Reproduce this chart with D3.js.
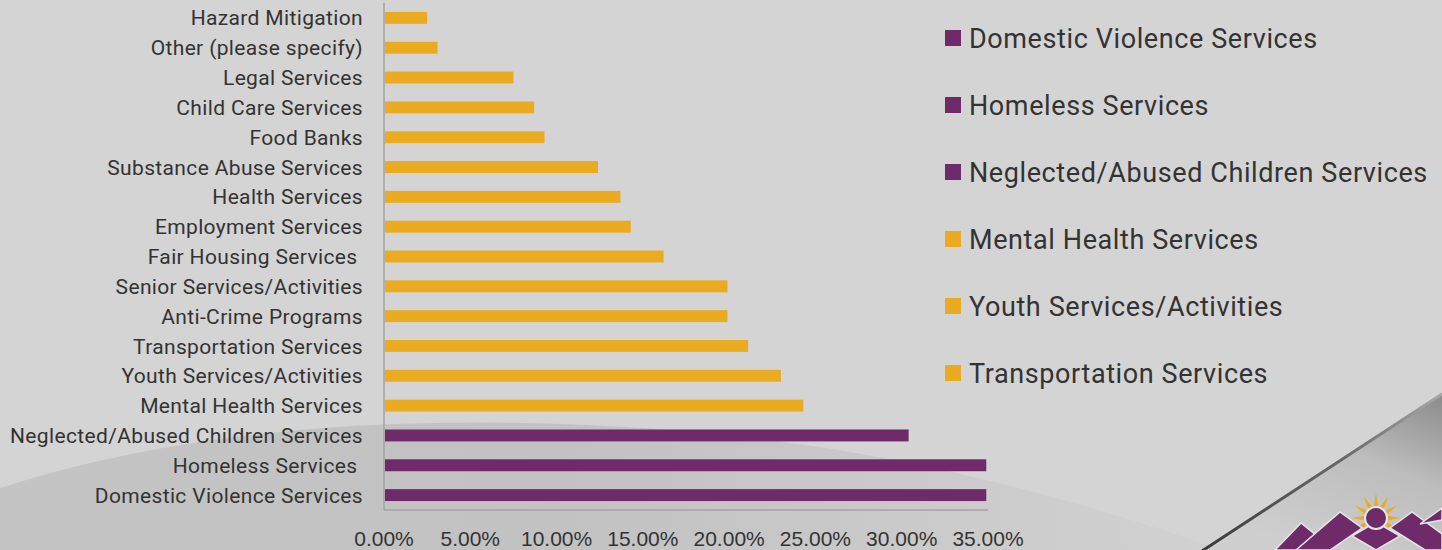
<!DOCTYPE html>
<html lang="en">
<head>
    <meta charset="utf-8">
    <title>Community Services Needs</title>
    <style>
        html, body {
            margin: 0;
            padding: 0;
            background: #d4d4d4;
        }
        svg {
            display: block;
        }
        .cat-label {
            font: 21px Roboto, sans-serif;
            letter-spacing: 0.35px;
            fill: #333;
            white-space: pre;
        }
        .tick-label {
            font: 21px "Liberation Sans", Arial, sans-serif;
            fill: #333;
        }
        .legend-label {
            font: 27px Roboto, sans-serif;
            letter-spacing: 0.6px;
            fill: #333;
        }
    </style>
</head>
<body>
<svg width="1442" height="550"></svg>

<script src="https://cdn.jsdelivr.net/npm/d3@7"></script>
<script>
  // categories, top to bottom as shown
  const categories = [
    "Hazard Mitigation",
    "Other (please specify)",
    "Legal Services",
    "Child Care Services",
    "Food Banks",
    "Substance Abuse Services",
    "Health Services",
    "Employment Services",
    "Fair Housing Services ",
    "Senior Services/Activities",
    "Anti-Crime Programs",
    "Transportation Services",
    "Youth Services/Activities",
    "Mental Health Services",
    "Neglected/Abused Children Services",
    "Homeless Services ",
    "Domestic Violence Services"
  ];

  // share of respondents (%)
  const values = [2.5, 3.1, 7.5, 8.7, 9.3, 12.4, 13.7, 14.3, 16.2, 19.9, 19.9, 21.1, 23.0, 24.3, 30.4, 34.9, 34.9];

  // top three needs are highlighted in purple
  const highlighted = [false, false, false, false, false, false, false, false, false, false, false, false, false, false, true, true, true];

  const xTicks = [0, 5, 10, 15, 20, 25, 30, 35];

  const legendNames = [
    "Domestic Violence Services",
    "Homeless Services",
    "Neglected/Abused Children Services",
    "Mental Health Services",
    "Youth Services/Activities",
    "Transportation Services"
  ];
  const legendHighlighted = [true, true, true, false, false, false];

  const PURPLE = "#6f2a69";
  const GOLD = "#ebab21";

  const svg = d3.select("svg");
  const defs = svg.append("defs");

  // ---- background decoration ----
  const arcGrad = defs.append("linearGradient")
    .attr("id", "arcGrad").attr("x1", 0).attr("y1", 0).attr("x2", 1).attr("y2", 0);
  arcGrad.append("stop").attr("offset", "0%").attr("stop-color", "#c4c4c4");
  arcGrad.append("stop").attr("offset", "45%").attr("stop-color", "#c2c2c2");
  arcGrad.append("stop").attr("offset", "100%").attr("stop-color", "#d2d2d2");

  svg.append("path")
    .attr("d", "M0,488 C180,430 380,418 560,424 C800,432 1000,470 1250,560 L0,560 Z")
    .attr("fill", "url(#arcGrad)");

  const cornerGrad = defs.append("linearGradient")
    .attr("id", "cornerGrad").attr("x1", 1).attr("y1", 0).attr("x2", 0.4).attr("y2", 1);
  cornerGrad.append("stop").attr("offset", "0%").attr("stop-color", "#8a8a8a");
  cornerGrad.append("stop").attr("offset", "45%").attr("stop-color", "#bdbdbd");
  cornerGrad.append("stop").attr("offset", "100%").attr("stop-color", "#cfcfcf");

  svg.append("path")
    .attr("d", "M1202,550 L1442,393 L1442,550 Z")
    .attr("fill", "url(#cornerGrad)");

  const edgeGrad = defs.append("linearGradient")
    .attr("id", "edgeGrad").attr("x1", 0).attr("y1", 1).attr("x2", 1).attr("y2", 0);
  edgeGrad.append("stop").attr("offset", "0%").attr("stop-color", "#3a3a3a");
  edgeGrad.append("stop").attr("offset", "60%").attr("stop-color", "#6a6a6a");
  edgeGrad.append("stop").attr("offset", "100%").attr("stop-color", "#a8a8a8");

  svg.append("line")
    .attr("x1", 1202).attr("y1", 551).attr("x2", 1442).attr("y2", 394)
    .attr("stroke", "url(#edgeGrad)").attr("stroke-width", 3);

  // logo: sun over mountains
  const logo = svg.append("g");
  const sunC = [1376, 518];
  const rays = d3.range(12).map(i => {
    const a = (i / 12) * 2 * Math.PI - Math.PI / 2;
    const a1 = a - 0.18, a2 = a + 0.18;
    return [
      [sunC[0] + 12 * Math.cos(a1), sunC[1] + 12 * Math.sin(a1)],
      [sunC[0] + 25 * Math.cos(a), sunC[1] + 25 * Math.sin(a)],
      [sunC[0] + 12 * Math.cos(a2), sunC[1] + 12 * Math.sin(a2)]
    ];
  });
  logo.selectAll("polygon.ray").data(rays).enter().append("polygon")
    .attr("class", "ray")
    .attr("points", d => d.map(p => p.join(",")).join(" "))
    .attr("fill", GOLD);
  const mountains = [
    [[1275, 550], [1301, 523], [1322, 540], [1310, 550]],
    [[1296, 550], [1340, 512], [1362, 528], [1330, 550]],
    [[1352, 536], [1376, 522], [1400, 536], [1376, 550]],
    [[1390, 528], [1412, 512], [1442, 534], [1442, 550], [1425, 550]],
    [[1420, 524], [1442, 508], [1442, 520]]
  ];
  logo.selectAll("polygon.mtn").data(mountains).enter().append("polygon")
    .attr("class", "mtn")
    .attr("points", d => d.map(p => p.join(",")).join(" "))
    .attr("fill", PURPLE).attr("stroke", "#e6e6e6").attr("stroke-width", 1.5);
  logo.append("circle").attr("cx", sunC[0]).attr("cy", sunC[1]).attr("r", 11)
    .attr("fill", PURPLE).attr("stroke", "#e6e6e6").attr("stroke-width", 2);

  // ---- chart ----
  const plot = {left: 384, right: 988, top: 3, bottom: 510};

  const x = d3.scaleLinear()
    .domain([0, 35])
    .range([plot.left, plot.right]);

  const y = d3.scaleBand()
    .domain(categories)
    .range([plot.top, plot.bottom])
    .paddingInner(0.6)
    .paddingOuter(0.3);

  const rows = categories.map((c, i) => ({name: c, value: values[i], hi: highlighted[i]}));

  svg.append("g").selectAll("rect")
    .data(rows)
    .enter()
    .append("rect")
    .attr("x", x(0) + 1)
    .attr("y", d => y(d.name))
    .attr("width", d => x(d.value) - x(0) - 1)
    .attr("height", y.bandwidth())
    .attr("fill", d => d.hi ? PURPLE : GOLD);

  // axis lines
  svg.append("line")
    .attr("x1", x(0)).attr("x2", x(0))
    .attr("y1", plot.top).attr("y2", plot.bottom)
    .attr("stroke", "#a3a3a3").attr("stroke-width", 1.5);
  svg.append("line")
    .attr("x1", x(0)).attr("x2", x(35))
    .attr("y1", plot.bottom).attr("y2", plot.bottom)
    .attr("stroke", "#a3a3a3").attr("stroke-width", 1.5);

  // category labels
  svg.append("g").selectAll("text")
    .data(rows)
    .enter()
    .append("text")
    .attr("class", "cat-label")
    .attr("x", 363)
    .attr("y", d => y(d.name) + y.bandwidth() / 2)
    .attr("dy", "0.36em")
    .attr("text-anchor", "end")
    .text(d => d.name);

  // x tick labels
  svg.append("g").selectAll("text")
    .data(xTicks)
    .enter()
    .append("text")
    .attr("class", "tick-label")
    .attr("x", d => x(d))
    .attr("y", 546)
    .attr("text-anchor", "middle")
    .text(d => d3.format(".2f")(d) + "%");

  // legend
  const legend = svg.append("g").attr("transform", "translate(945,38)");
  const item = legend.selectAll("g")
    .data(legendNames)
    .enter()
    .append("g")
    .attr("transform", (d, i) => `translate(0,${i * 67})`);
  item.append("rect")
    .attr("x", 0).attr("y", -8)
    .attr("width", 16).attr("height", 16)
    .attr("fill", (d, i) => legendHighlighted[i] ? PURPLE : GOLD);
  item.append("text")
    .attr("class", "legend-label")
    .attr("x", 24)
    .attr("dy", "0.36em")
    .text(d => d);
</script>

</body>
</html>
